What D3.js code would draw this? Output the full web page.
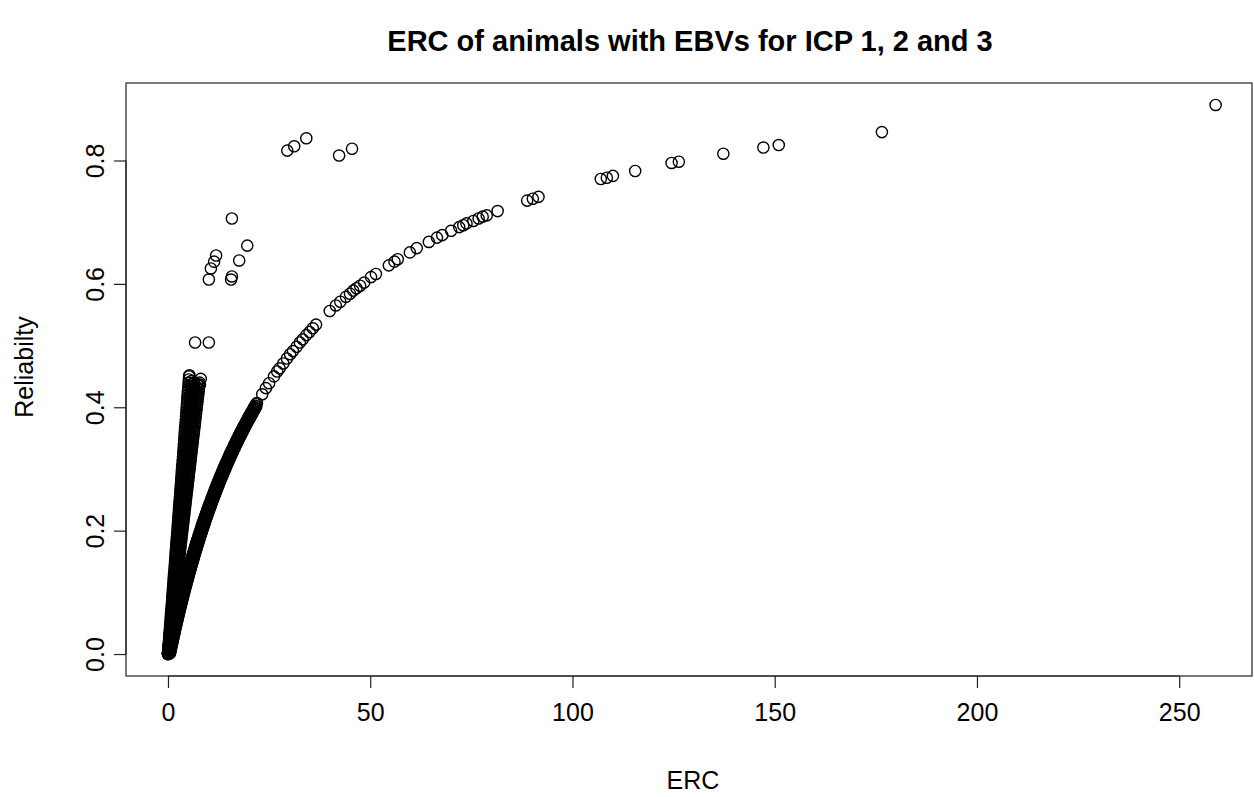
<!DOCTYPE html>
<html>
<head>
<meta charset="utf-8">
<script src="https://cdn.jsdelivr.net/npm/d3@7"></script>
<style>
  body { margin: 0; background: #fff; }
  svg { display: block; }
  text { font-family: "Liberation Sans", Arial, Helvetica, sans-serif; fill: #000; }
</style>
</head>
<body>
<svg id="chart" width="1254" height="797"></svg>
<script>
// ---- labels and ticks ----
const chartTitle = "ERC of animals with EBVs for ICP 1, 2 and 3";
const xLabel = "ERC";
const yLabel = "Reliabilty";
const xTicks = [0, 50, 100, 150, 200, 250];
const yTicks = [0, 0.2, 0.4, 0.6, 0.8];

// ---- data: [ERC, reliability] ----
// animals with few records: steep fan rising from the origin
const steep1 = [[0,0],[0.06,0.005],[0.12,0.01],[0.17,0.015],[0.23,0.02],[0.29,0.025],[0.35,0.03],[0.41,0.035],[0.46,0.04],[0.52,0.045],[0.58,0.05],[0.64,0.055],[0.70,0.06],[0.75,0.065],[0.81,0.07],[0.87,0.075],[0.93,0.08],[0.99,0.085],[1.04,0.09],[1.10,0.095],[1.16,0.1],[1.22,0.105],[1.28,0.11],[1.33,0.115],[1.39,0.12],[1.45,0.125],[1.51,0.13],[1.57,0.135],[1.62,0.14],[1.68,0.145],[1.74,0.15],[1.80,0.155],[1.86,0.16],[1.91,0.165],[1.97,0.17],[2.03,0.175],[2.09,0.18],[2.15,0.185],[2.20,0.19],[2.26,0.195],[2.32,0.2],[2.38,0.205],[2.44,0.21],[2.49,0.215],[2.55,0.22],[2.61,0.225],[2.67,0.23],[2.73,0.235],[2.78,0.24],[2.84,0.245],[2.90,0.25],[2.96,0.255],[3.02,0.26],[3.07,0.265],[3.13,0.27],[3.19,0.275],[3.25,0.28],[3.31,0.285],[3.36,0.29],[3.42,0.295],[3.48,0.3],[3.54,0.305],[3.60,0.31],[3.65,0.315],[3.71,0.32],[3.77,0.325],[3.83,0.33],[3.89,0.335],[3.94,0.34],[4.00,0.345],[4.06,0.35],[4.12,0.355],[4.18,0.36],[4.23,0.365],[4.29,0.37],[4.35,0.375],[4.41,0.38],[4.47,0.385],[4.52,0.39],[4.58,0.395],[4.64,0.4],[4.70,0.405],[4.76,0.41],[4.81,0.415],[4.87,0.42],[4.93,0.425],[4.99,0.43],[5.05,0.435],[5.10,0.44],[5.16,0.445],[5.22,0.45]];
const steep2 = [[0.03,0.0025],[0.10,0.0075],[0.17,0.0125],[0.23,0.0175],[0.30,0.0225],[0.36,0.0275],[0.43,0.0325],[0.50,0.0375],[0.56,0.0425],[0.63,0.0475],[0.69,0.0525],[0.76,0.0575],[0.83,0.0625],[0.89,0.0675],[0.96,0.0725],[1.02,0.0775],[1.09,0.0825],[1.16,0.0875],[1.22,0.0925],[1.29,0.0975],[1.35,0.1025],[1.42,0.1075],[1.49,0.1125],[1.55,0.1175],[1.62,0.1225],[1.68,0.1275],[1.75,0.1325],[1.82,0.1375],[1.88,0.1425],[1.95,0.1475],[2.01,0.1525],[2.08,0.1575],[2.15,0.1625],[2.21,0.1675],[2.28,0.1725],[2.34,0.1775],[2.41,0.1825],[2.48,0.1875],[2.54,0.1925],[2.61,0.1975],[2.67,0.2025],[2.74,0.2075],[2.81,0.2125],[2.87,0.2175],[2.94,0.2225],[3.00,0.2275],[3.07,0.2325],[3.14,0.2375],[3.20,0.2425],[3.27,0.2475],[3.33,0.2525],[3.40,0.2575],[3.47,0.2625],[3.53,0.2675],[3.60,0.2725],[3.66,0.2775],[3.73,0.2825],[3.80,0.2875],[3.86,0.2925],[3.93,0.2975],[3.99,0.3025],[4.06,0.3075],[4.13,0.3125],[4.19,0.3175],[4.26,0.3225],[4.32,0.3275],[4.39,0.3325],[4.46,0.3375],[4.52,0.3425],[4.59,0.3475],[4.65,0.3525],[4.72,0.3575],[4.79,0.3625],[4.85,0.3675],[4.92,0.3725],[4.98,0.3775],[5.05,0.3825],[5.12,0.3875],[5.18,0.3925],[5.25,0.3975],[5.31,0.4025],[5.38,0.4075],[5.45,0.4125],[5.51,0.4175],[5.58,0.4225],[5.64,0.4275],[5.71,0.4325],[5.78,0.4375],[5.84,0.4425]];
const steep3 = [[0,0],[0.07,0.005],[0.15,0.01],[0.22,0.015],[0.30,0.02],[0.37,0.025],[0.44,0.03],[0.52,0.035],[0.59,0.04],[0.67,0.045],[0.74,0.05],[0.81,0.055],[0.89,0.06],[0.96,0.065],[1.04,0.07],[1.11,0.075],[1.18,0.08],[1.26,0.085],[1.33,0.09],[1.41,0.095],[1.48,0.1],[1.55,0.105],[1.63,0.11],[1.70,0.115],[1.78,0.12],[1.85,0.125],[1.92,0.13],[2.00,0.135],[2.07,0.14],[2.15,0.145],[2.22,0.15],[2.29,0.155],[2.37,0.16],[2.44,0.165],[2.52,0.17],[2.59,0.175],[2.66,0.18],[2.74,0.185],[2.81,0.19],[2.89,0.195],[2.96,0.2],[3.03,0.205],[3.11,0.21],[3.18,0.215],[3.26,0.22],[3.33,0.225],[3.40,0.23],[3.48,0.235],[3.55,0.24],[3.63,0.245],[3.70,0.25],[3.77,0.255],[3.85,0.26],[3.92,0.265],[4.00,0.27],[4.07,0.275],[4.14,0.28],[4.22,0.285],[4.29,0.29],[4.37,0.295],[4.44,0.3],[4.51,0.305],[4.59,0.31],[4.66,0.315],[4.74,0.32],[4.81,0.325],[4.88,0.33],[4.96,0.335],[5.03,0.34],[5.11,0.345],[5.18,0.35],[5.25,0.355],[5.33,0.36],[5.40,0.365],[5.48,0.37],[5.55,0.375],[5.62,0.38],[5.70,0.385],[5.77,0.39],[5.85,0.395],[5.92,0.4],[5.99,0.405],[6.07,0.41],[6.14,0.415],[6.22,0.42],[6.29,0.425],[6.36,0.43],[6.44,0.435],[6.51,0.44]];
const steep4 = [[0.04,0.0025],[0.12,0.0075],[0.21,0.0125],[0.29,0.0175],[0.37,0.0225],[0.45,0.0275],[0.53,0.0325],[0.62,0.0375],[0.70,0.0425],[0.78,0.0475],[0.86,0.0525],[0.94,0.0575],[1.03,0.0625],[1.11,0.0675],[1.19,0.0725],[1.27,0.0775],[1.35,0.0825],[1.44,0.0875],[1.52,0.0925],[1.60,0.0975],[1.68,0.1025],[1.76,0.1075],[1.85,0.1125],[1.93,0.1175],[2.01,0.1225],[2.09,0.1275],[2.17,0.1325],[2.26,0.1375],[2.34,0.1425],[2.42,0.1475],[2.50,0.1525],[2.58,0.1575],[2.67,0.1625],[2.75,0.1675],[2.83,0.1725],[2.91,0.1775],[2.99,0.1825],[3.08,0.1875],[3.16,0.1925],[3.24,0.1975],[3.32,0.2025],[3.40,0.2075],[3.49,0.2125],[3.57,0.2175],[3.65,0.2225],[3.73,0.2275],[3.81,0.2325],[3.90,0.2375],[3.98,0.2425],[4.06,0.2475],[4.14,0.2525],[4.22,0.2575],[4.31,0.2625],[4.39,0.2675],[4.47,0.2725],[4.55,0.2775],[4.63,0.2825],[4.72,0.2875],[4.80,0.2925],[4.88,0.2975],[4.96,0.3025],[5.04,0.3075],[5.13,0.3125],[5.21,0.3175],[5.29,0.3225],[5.37,0.3275],[5.45,0.3325],[5.54,0.3375],[5.62,0.3425],[5.70,0.3475],[5.78,0.3525],[5.86,0.3575],[5.95,0.3625],[6.03,0.3675],[6.11,0.3725],[6.19,0.3775],[6.27,0.3825],[6.36,0.3875],[6.44,0.3925],[6.52,0.3975],[6.60,0.4025],[6.68,0.4075],[6.77,0.4125],[6.85,0.4175],[6.93,0.4225],[7.01,0.4275],[7.09,0.4325],[7.18,0.4375]];
const steep5 = [[0,0],[0.09,0.005],[0.18,0.01],[0.27,0.015],[0.36,0.02],[0.45,0.025],[0.53,0.03],[0.62,0.035],[0.71,0.04],[0.80,0.045],[0.89,0.05],[0.98,0.055],[1.07,0.06],[1.16,0.065],[1.25,0.07],[1.34,0.075],[1.42,0.08],[1.51,0.085],[1.60,0.09],[1.69,0.095],[1.78,0.1],[1.87,0.105],[1.96,0.11],[2.05,0.115],[2.14,0.12],[2.23,0.125],[2.31,0.13],[2.40,0.135],[2.49,0.14],[2.58,0.145],[2.67,0.15],[2.76,0.155],[2.85,0.16],[2.94,0.165],[3.03,0.17],[3.12,0.175],[3.20,0.18],[3.29,0.185],[3.38,0.19],[3.47,0.195],[3.56,0.2],[3.65,0.205],[3.74,0.21],[3.83,0.215],[3.92,0.22],[4.01,0.225],[4.09,0.23],[4.18,0.235],[4.27,0.24],[4.36,0.245],[4.45,0.25],[4.54,0.255],[4.63,0.26],[4.72,0.265],[4.81,0.27],[4.90,0.275],[4.98,0.28],[5.07,0.285],[5.16,0.29],[5.25,0.295],[5.34,0.3],[5.43,0.305],[5.52,0.31],[5.61,0.315],[5.70,0.32],[5.79,0.325],[5.87,0.33],[5.96,0.335],[6.05,0.34],[6.14,0.345],[6.23,0.35],[6.32,0.355],[6.41,0.36],[6.50,0.365],[6.59,0.37],[6.68,0.375],[6.76,0.38],[6.85,0.385],[6.94,0.39],[7.03,0.395],[7.12,0.4],[7.21,0.405],[7.30,0.41],[7.39,0.415],[7.48,0.42],[7.57,0.425],[7.65,0.43],[7.74,0.435],[7.83,0.44],[7.90,0.437],[8.10,0.446],[5.30,0.452]];

// main reliability curve, densely populated at low ERC
const mainBand = [[0,0],[0.08,0.0025],[0.16,0.005],[0.24,0.0075],[0.32,0.01],[0.41,0.0125],[0.49,0.015],[0.57,0.0175],[0.65,0.02],[0.74,0.0225],[0.82,0.025],[0.90,0.0275],[0.99,0.03],[1.08,0.0325],[1.16,0.035],[1.25,0.0375],[1.33,0.04],[1.42,0.0425],[1.51,0.045],[1.60,0.0475],[1.68,0.05],[1.77,0.0525],[1.86,0.055],[1.95,0.0575],[2.04,0.06],[2.13,0.0625],[2.22,0.065],[2.32,0.0675],[2.41,0.07],[2.50,0.0725],[2.60,0.075],[2.69,0.0775],[2.78,0.08],[2.88,0.0825],[2.97,0.085],[3.07,0.0875],[3.17,0.09],[3.26,0.0925],[3.36,0.095],[3.46,0.0975],[3.56,0.1],[3.66,0.1025],[3.75,0.105],[3.86,0.1075],[3.96,0.11],[4.06,0.1125],[4.16,0.115],[4.26,0.1175],[4.37,0.12],[4.47,0.1225],[4.57,0.125],[4.68,0.1275],[4.78,0.13],[4.89,0.1325],[5.00,0.135],[5.10,0.1375],[5.21,0.14],[5.32,0.1425],[5.43,0.145],[5.54,0.1475],[5.65,0.15],[5.76,0.1525],[5.87,0.155],[5.98,0.1575],[6.10,0.16],[6.21,0.1625],[6.32,0.165],[6.44,0.1675],[6.55,0.17],[6.67,0.1725],[6.79,0.175],[6.91,0.1775],[7.02,0.18],[7.14,0.1825],[7.26,0.185],[7.39,0.1875],[7.51,0.19],[7.63,0.1925],[7.75,0.195],[7.88,0.1975],[8.00,0.2],[8.13,0.2025],[8.25,0.205],[8.38,0.2075],[8.51,0.21],[8.64,0.2125],[8.77,0.215],[8.90,0.2175],[9.03,0.22],[9.16,0.2225],[9.29,0.225],[9.42,0.2275],[9.56,0.23],[9.69,0.2325],[9.83,0.235],[9.97,0.2375],[10.11,0.24],[10.25,0.2425],[10.38,0.245],[10.53,0.2475],[10.67,0.25],[10.81,0.2525],[10.95,0.255],[11.10,0.2575],[11.25,0.26],[11.39,0.2625],[11.54,0.265],[11.69,0.2675],[11.84,0.27],[11.99,0.2725],[12.14,0.275],[12.29,0.2775],[12.45,0.28],[12.60,0.2825],[12.76,0.285],[12.91,0.2875],[13.07,0.29],[13.23,0.2925],[13.39,0.295],[13.55,0.2975],[13.72,0.3],[13.88,0.3025],[14.04,0.305],[14.21,0.3075],[14.38,0.31],[14.55,0.3125],[14.72,0.315],[14.89,0.3175],[15.06,0.32],[15.23,0.3225],[15.41,0.325],[15.58,0.3275],[15.76,0.33],[15.94,0.3325],[16.12,0.335],[16.30,0.3375],[16.49,0.34],[16.67,0.3425],[16.85,0.345],[17.04,0.3475],[17.23,0.35],[17.42,0.3525],[17.61,0.355],[17.81,0.3575],[18.00,0.36],[18.20,0.3625],[18.39,0.365],[18.59,0.3675],[18.79,0.37],[19.00,0.3725],[19.20,0.375],[19.41,0.3775],[19.61,0.38],[19.82,0.3825],[20.03,0.385],[20.25,0.3875],[20.46,0.39],[20.68,0.3925],[20.89,0.395],[21.11,0.3975],[21.33,0.4],[21.56,0.4025],[21.78,0.405]];
const mainBand2 = [[0.50,0.00125],[0.58,0.00375],[0.66,0.00625],[0.74,0.00875],[0.82,0.01125],[0.91,0.01375],[0.99,0.01625],[1.07,0.01875],[1.15,0.02125],[1.24,0.02375],[1.32,0.02625],[1.40,0.02875],[1.49,0.03125],[1.58,0.03375],[1.66,0.03625],[1.75,0.03875],[1.83,0.04125],[1.92,0.04375],[2.01,0.04625],[2.10,0.04875],[2.18,0.05125],[2.27,0.05375],[2.36,0.05625],[2.45,0.05875],[2.54,0.06125],[2.63,0.06375],[2.72,0.06625],[2.82,0.06875],[2.91,0.07125],[3.00,0.07375],[3.10,0.07625],[3.19,0.07875],[3.28,0.08125],[3.38,0.08375],[3.47,0.08625],[3.57,0.08875],[3.67,0.09125],[3.76,0.09375],[3.86,0.09625],[3.96,0.09875],[4.06,0.10125],[4.16,0.10375],[4.25,0.10625],[4.36,0.10875],[4.46,0.11125],[4.56,0.11375],[4.66,0.11625],[4.76,0.11875],[4.87,0.12125],[4.97,0.12375],[5.07,0.12625],[5.18,0.12875],[5.28,0.13125],[5.39,0.13375],[5.50,0.13625],[5.60,0.13875],[5.71,0.14125],[5.82,0.14375],[5.93,0.14625],[6.04,0.14875],[6.15,0.15125],[6.26,0.15375],[6.37,0.15625],[6.48,0.15875],[6.60,0.16125],[6.71,0.16375],[6.82,0.16625],[6.94,0.16875],[7.05,0.17125],[7.17,0.17375],[7.29,0.17625],[7.41,0.17875],[7.52,0.18125],[7.64,0.18375],[7.76,0.18625],[7.89,0.18875],[8.01,0.19125],[8.13,0.19375],[8.25,0.19625],[8.38,0.19875],[8.50,0.20125],[8.63,0.20375],[8.75,0.20625],[8.88,0.20875],[9.01,0.21125],[9.14,0.21375],[9.27,0.21625],[9.40,0.21875],[9.53,0.22125],[9.66,0.22375],[9.79,0.22625],[9.92,0.22875],[10.06,0.23125],[10.19,0.23375],[10.33,0.23625],[10.47,0.23875],[10.61,0.24125],[10.75,0.24375],[10.88,0.24625],[11.03,0.24875],[11.17,0.25125],[11.31,0.25375],[11.45,0.25625],[11.60,0.25875],[11.75,0.26125],[11.89,0.26375],[12.04,0.26625],[12.19,0.26875],[12.34,0.27125],[12.49,0.27375],[12.64,0.27625],[12.79,0.27875],[12.95,0.28125],[13.10,0.28375],[13.26,0.28625],[13.41,0.28875],[13.57,0.29125],[13.73,0.29375],[13.89,0.29625],[14.05,0.29875],[14.22,0.30125],[14.38,0.30375],[14.54,0.30625],[14.71,0.30875],[14.88,0.31125],[15.05,0.31375],[15.22,0.31625],[15.39,0.31875],[15.56,0.32125],[15.73,0.32375],[15.91,0.32625],[16.08,0.32875],[16.26,0.33125],[16.44,0.33375],[16.62,0.33625],[16.80,0.33875],[16.99,0.34125],[17.17,0.34375],[17.35,0.34625],[17.54,0.34875],[17.73,0.35125],[17.92,0.35375],[18.11,0.35625],[18.31,0.35875],[18.50,0.36125],[18.70,0.36375],[18.89,0.36625],[19.09,0.36875],[19.29,0.37125],[19.50,0.37375],[19.70,0.37625],[19.91,0.37875],[20.11,0.38125],[20.32,0.38375],[20.53,0.38625],[20.75,0.38875],[20.96,0.39125],[21.18,0.39375],[21.39,0.39625],[21.61,0.39875],[21.83,0.40125]];

// main curve, sparser at higher ERC
const mainSparse = [[22.0,0.407],[23.3,0.421],[24.2,0.431],[25.0,0.439],[26.2,0.450],[27.0,0.458],[27.6,0.463],[28.5,0.471],[29.4,0.479],[30.2,0.486],[30.9,0.491],[31.8,0.498],[32.6,0.505],[33.3,0.510],[34.2,0.517],[35.0,0.522],[35.8,0.528],[36.6,0.534],[40.0,0.556],[41.5,0.565],[42.6,0.571],[44.0,0.579],[45.0,0.584],[45.8,0.589],[46.6,0.593],[47.5,0.597],[48.5,0.602],[50.2,0.611],[51.4,0.616],[54.6,0.630],[56.0,0.636],[56.8,0.640],[59.8,0.651],[61.5,0.658],[64.5,0.668],[66.5,0.675],[67.8,0.679],[70.0,0.686],[72.0,0.692],[73.0,0.695],[73.8,0.698],[75.5,0.702],[76.8,0.706],[77.8,0.709],[78.8,0.711],[81.5,0.718],[88.8,0.735],[90.2,0.738],[91.6,0.741],[107.0,0.770],[108.5,0.772],[110.0,0.775],[115.5,0.783],[124.5,0.796],[126.3,0.798],[137.3,0.811],[147.2,0.821],[151.0,0.825],[176.5,0.846],[259.0,0.890]];

// animals above the main curve
const upperGroup = [[6.7,0.505],[10.1,0.505],[10.1,0.607],[10.6,0.625],[11.4,0.636],[11.9,0.646],[15.6,0.607],[15.8,0.612],[15.8,0.706],[17.6,0.638],[19.6,0.662],[29.5,0.816],[31.2,0.823],[34.2,0.836],[42.3,0.808],[45.5,0.819]];

const allPoints = [].concat(steep1, steep2, steep3, steep4, steep5, mainBand, mainBand2, mainSparse, upperGroup);

// ---- layout ----
const svg = d3.select("#chart");
const x = d3.scaleLinear().domain([-10.38, 268.0]).range([126, 1252]);
const y = d3.scaleLinear().domain([-0.0356, 0.9256]).range([676, 83]);
const ink = "#000";

svg.append("rect").attr("width", 1254).attr("height", 797).attr("fill", "#fff");

// points: open circles
svg.append("g")
  .selectAll("circle")
  .data(allPoints)
  .join("circle")
  .attr("cx", d => x(d[0]))
  .attr("cy", d => y(d[1]))
  .attr("r", 5.6)
  .attr("fill", "none")
  .attr("stroke", ink)
  .attr("stroke-width", 1.4);

// plot frame
svg.append("rect")
  .attr("x", x.range()[0]).attr("y", y.range()[1])
  .attr("width", x.range()[1] - x.range()[0])
  .attr("height", y.range()[0] - y.range()[1])
  .attr("fill", "none").attr("stroke", "#222").attr("stroke-width", 1.2);

// x axis
const xAxis = svg.append("g")
  .attr("transform", `translate(0,${y.range()[0]})`)
  .call(d3.axisBottom(x).tickValues(xTicks).tickSize(12).tickPadding(15).tickFormat(d3.format("d")));
xAxis.select(".domain").remove();
xAxis.append("line")
  .attr("x1", x(xTicks[0])).attr("x2", x(xTicks[xTicks.length - 1]))
  .attr("stroke", "#222").attr("stroke-width", 1.2);
xAxis.selectAll(".tick line").attr("stroke", "#222").attr("stroke-width", 1.2);
xAxis.selectAll(".tick text")
  .attr("font-size", 25).attr("fill", "#111")
  .style("font-family", '"Liberation Sans", Arial, sans-serif');

// y axis with labels turned parallel to the axis
const yAxis = svg.append("g")
  .attr("transform", `translate(${x.range()[0]},0)`)
  .call(d3.axisLeft(y).tickValues(yTicks).tickSize(12).tickFormat(d3.format(".1f")));
yAxis.select(".domain").remove();
yAxis.append("line")
  .attr("y1", y(yTicks[0])).attr("y2", y(yTicks[yTicks.length - 1]))
  .attr("stroke", "#222").attr("stroke-width", 1.2);
yAxis.selectAll(".tick line").attr("stroke", "#222").attr("stroke-width", 1.2);
yAxis.selectAll(".tick text")
  .attr("font-size", 25).attr("fill", "#111")
  .style("font-family", '"Liberation Sans", Arial, sans-serif')
  .attr("transform", "rotate(-90)")
  .attr("text-anchor", "middle")
  .attr("x", 0).attr("y", -22).attr("dy", 0);

// titles
svg.append("text")
  .attr("x", 690).attr("y", 51)
  .attr("text-anchor", "middle")
  .attr("font-size", 29).attr("font-weight", "bold")
  .text(chartTitle);

svg.append("text")
  .attr("x", 693).attr("y", 789)
  .attr("text-anchor", "middle")
  .attr("font-size", 25)
  .text(xLabel);

svg.append("text")
  .attr("transform", "translate(33,367) rotate(-90)")
  .attr("text-anchor", "middle")
  .attr("font-size", 25)
  .text(yLabel);
</script>
</body>
</html>
